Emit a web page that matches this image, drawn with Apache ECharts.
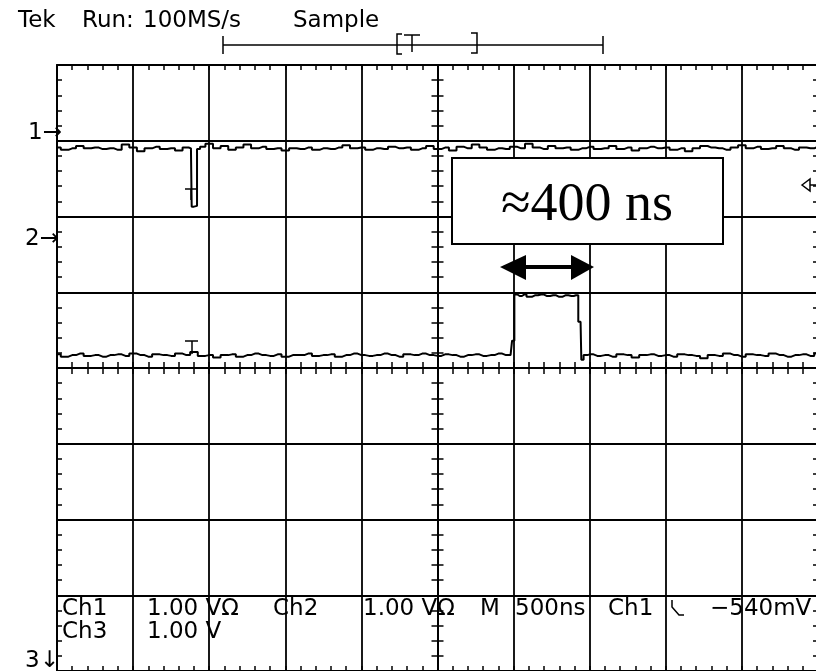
<!DOCTYPE html>
<html lang="en">
<head>
    <meta charset="UTF-8">
    <title>scope capture</title>
    <script src="https://cdn.jsdelivr.net/npm/echarts@6/dist/echarts.min.js"></script>
    <style>
        html, body { margin: 0; padding: 0; background: #fff; }
        #main { width: 816px; height: 671px; }
    </style>
</head>
<body>
<div id="main"></div>
<script>
    // time in ns (500 ns/div, 10 div), level in divisions (8 div)
    var timeRange = [-2500, 2500];
    var levelRange = [-4, 4];

    // channel 1: flat with a short negative glitch near -1.6 us
    var ch1Points = [
        [-2500, 2.91], [-2450, 2.88], [-2400, 2.90], [-2350, 2.93], [-2300, 2.90], [-2250, 2.91],
        [-2200, 2.89], [-2150, 2.90], [-2100, 2.88], [-2050, 2.95], [-2000, 2.91], [-1950, 2.86],
        [-1900, 2.90], [-1850, 2.92], [-1800, 2.89], [-1750, 2.90], [-1700, 2.87], [-1650, 2.91],
        [-1620, 2.90], [-1610, 2.13], [-1590, 2.14], [-1570, 2.89], [-1550, 2.92], [-1500, 2.96],
        [-1450, 2.90], [-1400, 2.93], [-1350, 2.88], [-1300, 2.91], [-1250, 2.95], [-1200, 2.90],
        [-1150, 2.92], [-1100, 2.89], [-1050, 2.90], [-1000, 2.87], [-950, 2.90], [-900, 2.89],
        [-850, 2.91], [-800, 2.88], [-750, 2.90], [-700, 2.89], [-650, 2.91], [-600, 2.94],
        [-550, 2.90], [-500, 2.91], [-450, 2.88], [-400, 2.90], [-350, 2.89], [-300, 2.92],
        [-250, 2.90], [-200, 2.91], [-150, 2.88], [-100, 2.90], [-50, 2.93], [0, 2.89],
        [50, 2.91], [100, 2.87], [150, 2.92], [200, 2.90], [250, 2.95], [300, 2.91],
        [350, 2.88], [400, 2.90], [450, 2.89], [500, 2.92], [550, 2.90], [600, 2.96],
        [650, 2.91], [700, 2.89], [750, 2.93], [800, 2.90], [850, 2.91], [900, 2.88],
        [950, 2.90], [1000, 2.92], [1050, 2.89], [1100, 2.90], [1150, 2.93], [1200, 2.89],
        [1250, 2.91], [1300, 2.87], [1350, 2.90], [1400, 2.92], [1450, 2.90], [1500, 2.91],
        [1550, 2.88], [1600, 2.90], [1650, 2.86], [1700, 2.90], [1750, 2.93], [1800, 2.91],
        [1850, 2.90], [1900, 2.88], [1950, 2.91], [2000, 2.94], [2050, 2.90], [2100, 2.92],
        [2150, 2.89], [2200, 2.90], [2250, 2.93], [2300, 2.90], [2350, 2.88], [2400, 2.91],
        [2450, 2.90], [2500, 2.92]
    ];

    // channel 2: baseline with the ~400 ns pulse
    var ch2Points = [
        [-2500, 0.18], [-2450, 0.15], [-2400, 0.17], [-2350, 0.19], [-2300, 0.16], [-2250, 0.17],
        [-2200, 0.15], [-2150, 0.17], [-2100, 0.18], [-2050, 0.16], [-2000, 0.19], [-1950, 0.17],
        [-1900, 0.15], [-1850, 0.18], [-1800, 0.17], [-1750, 0.16], [-1700, 0.19], [-1650, 0.17],
        [-1600, 0.21], [-1550, 0.16], [-1500, 0.17], [-1450, 0.14], [-1400, 0.17], [-1350, 0.18],
        [-1300, 0.15], [-1250, 0.17], [-1200, 0.19], [-1150, 0.17], [-1100, 0.16], [-1050, 0.18],
        [-1000, 0.15], [-950, 0.17], [-900, 0.17], [-850, 0.19], [-800, 0.16], [-750, 0.17],
        [-700, 0.18], [-650, 0.15], [-600, 0.17], [-550, 0.19], [-500, 0.17], [-450, 0.16],
        [-400, 0.17], [-350, 0.19], [-300, 0.17], [-250, 0.15], [-200, 0.18], [-150, 0.17],
        [-100, 0.19], [-50, 0.17], [0, 0.16], [50, 0.18], [100, 0.17], [150, 0.15],
        [200, 0.17], [250, 0.18], [300, 0.16], [350, 0.17], [400, 0.19], [450, 0.17],
        [480, 0.17], [500, 0.36], [510, 0.97], [540, 0.95], [570, 0.97], [600, 0.94],
        [640, 0.96], [680, 0.97], [720, 0.95], [760, 0.96], [800, 0.94], [840, 0.96],
        [880, 0.95], [910, 0.96], [940, 0.61], [950, 0.11], [970, 0.17], [1000, 0.18],
        [1050, 0.16], [1100, 0.17], [1150, 0.15], [1200, 0.18], [1250, 0.17], [1300, 0.14],
        [1350, 0.17], [1400, 0.18], [1450, 0.16], [1500, 0.17], [1550, 0.15], [1600, 0.18],
        [1650, 0.17], [1700, 0.16], [1750, 0.13], [1800, 0.17], [1850, 0.16], [1900, 0.19],
        [1950, 0.17], [2000, 0.15], [2050, 0.18], [2100, 0.17], [2150, 0.16], [2200, 0.19],
        [2250, 0.17], [2300, 0.15], [2350, 0.17], [2400, 0.18], [2450, 0.16], [2500, 0.19]
    ];

    // readout texts
    var headerTexts = [['Tek', 18], ['Run:', 82], ['100MS/s', 143], ['Sample', 293]];
    var readoutRow1 = [['Ch1', 62], ['1.00 VΩ', 147], ['Ch2', 273], ['1.00 VΩ', 363], ['M', 480],
        ['500ns', 515], ['Ch1', 608], ['−540mV', 710]];
    var readoutRow2 = [['Ch3', 62], ['1.00 V', 147]];
    var markerTexts = [['1→', 28, 133], ['2→', 25, 239], ['3↓', 25, 661]];
    var pulseLabel = '≈400 ns';

    var tekFont = 'DejaVu Sans';
    var ink = '#000';

    var myChart = echarts.init(document.getElementById('main'), null, {renderer: 'canvas'});

    function edgeAxis(type, pos, inside, split) {
        var isX = type === 'x';
        return {
            type: 'value',
            min: isX ? timeRange[0] : levelRange[0],
            max: isX ? timeRange[1] : levelRange[1],
            interval: isX ? 500 : 1,
            position: pos,
            axisLine: {show: true, onZero: false, lineStyle: {color: ink, width: 2}},
            axisTick: {show: true, inside: inside, length: 5, lineStyle: {color: ink, width: 1.5}},
            minorTick: {show: true, splitNumber: 5, length: 5, lineStyle: {color: ink, width: 1.5}},
            axisLabel: {show: false},
            splitLine: {show: split, lineStyle: {color: ink, width: 1.8}}
        };
    }

    function centerAxis(base, inside) {
        base.axisLine = {show: true, onZero: true, onZeroAxisIndex: 0, lineStyle: {color: ink, width: 2}};
        base.axisTick.inside = inside;
        base.axisTick.length = 6;
        base.minorTick.length = 6;
        return base;
    }

    var xAxes = [
        edgeAxis('x', 'bottom', true, true),
        edgeAxis('x', 'top', true, false),
        centerAxis(edgeAxis('x', 'bottom', true, false), true),
        centerAxis(edgeAxis('x', 'bottom', false, false), false)
    ];
    var yAxes = [
        edgeAxis('y', 'left', true, true),
        edgeAxis('y', 'right', true, false),
        centerAxis(edgeAxis('y', 'left', true, false), true),
        centerAxis(edgeAxis('y', 'left', false, false), false)
    ];

    function txt(s, x, y, size, family, align, z) {
        return {
            type: 'text', x: x, y: y, z: z || 60,
            style: {
                text: s, fill: ink, fontSize: size, fontFamily: family,
                align: align || 'left', verticalAlign: 'middle'
            }
        };
    }

    function seg(x1, y1, x2, y2, w) {
        return {type: 'line', z: 60, shape: {x1: x1, y1: y1, x2: x2, y2: y2}, style: {stroke: ink, lineWidth: w || 1.5}};
    }

    var graphics = [];
    headerTexts.forEach(function (t) { graphics.push(txt(t[0], t[1], 21, 23, tekFont)); });
    readoutRow1.forEach(function (t) { graphics.push(txt(t[0], t[1], 609, 23, tekFont)); });
    readoutRow2.forEach(function (t) { graphics.push(txt(t[0], t[1], 632, 23, tekFont)); });
    markerTexts.forEach(function (t) { graphics.push(txt(t[0], t[1], t[2], 23, tekFont)); });

    // record window bracket
    graphics.push(seg(223, 45, 603, 45));
    graphics.push(seg(223, 36, 223, 54));
    graphics.push(seg(603, 36, 603, 54));
    graphics.push({type: 'polyline', z: 60, shape: {points: [[402, 34], [397, 34], [397, 54], [402, 54]]},
        style: {stroke: ink, lineWidth: 1.5, fill: null}});
    graphics.push(seg(404, 35, 420, 35));
    graphics.push(seg(412, 35, 412, 52));
    graphics.push({type: 'polyline', z: 60, shape: {points: [[471, 33], [477, 33], [477, 53], [471, 53]]},
        style: {stroke: ink, lineWidth: 1.5, fill: null}});

    // trigger "T" markers on traces
    graphics.push(seg(185, 189, 197, 189));
    graphics.push(seg(191, 189, 191, 200));
    graphics.push(seg(185, 341, 198, 341));
    graphics.push(seg(192, 341, 192, 354));

    // trigger level marker at right edge
    graphics.push({type: 'polygon', z: 60, shape: {points: [[802, 185], [810, 179], [810, 191]]},
        style: {stroke: ink, lineWidth: 1.5, fill: '#fff'}});
    graphics.push(seg(810, 185, 816, 185));

    // falling slope symbol
    graphics.push({type: 'polyline', z: 60, shape: {points: [[672, 600], [672, 607], [679, 615], [684, 615]]},
        style: {stroke: ink, lineWidth: 1.5, fill: null}});

    // annotation box and width arrow
    graphics.push({type: 'rect', z: 70, shape: {x: 452, y: 158, width: 271, height: 86},
        style: {fill: '#fff', stroke: ink, lineWidth: 2}});
    graphics.push(txt(pulseLabel, 587, 206, 54, 'Liberation Serif', 'center', 71));
    graphics.push(seg(520, 267, 576, 267, 4));
    graphics.push({type: 'polygon', z: 60, shape: {points: [[500, 267], [526, 255], [526, 280]]}, style: {fill: ink}});
    graphics.push({type: 'polygon', z: 60, shape: {points: [[594, 267], [571, 255], [571, 280]]}, style: {fill: ink}});

    function trace(name, pts) {
        return {
            name: name, type: 'line', data: pts, xAxisIndex: 0, yAxisIndex: 0,
            step: 'middle', showSymbol: false, symbol: 'none', silent: true,
            lineStyle: {color: ink, width: 2}, z: 5
        };
    }

    var option = {
        animation: false,
        backgroundColor: '#fff',
        grid: {left: 57, top: 65, width: 761, height: 606, containLabel: false, outerBoundsMode: 'none'},
        xAxis: xAxes,
        yAxis: yAxes,
        series: [trace('Ch1', ch1Points), trace('Ch2', ch2Points)],
        graphic: graphics
    };

    myChart.setOption(option);
</script>
</body>
</html>
